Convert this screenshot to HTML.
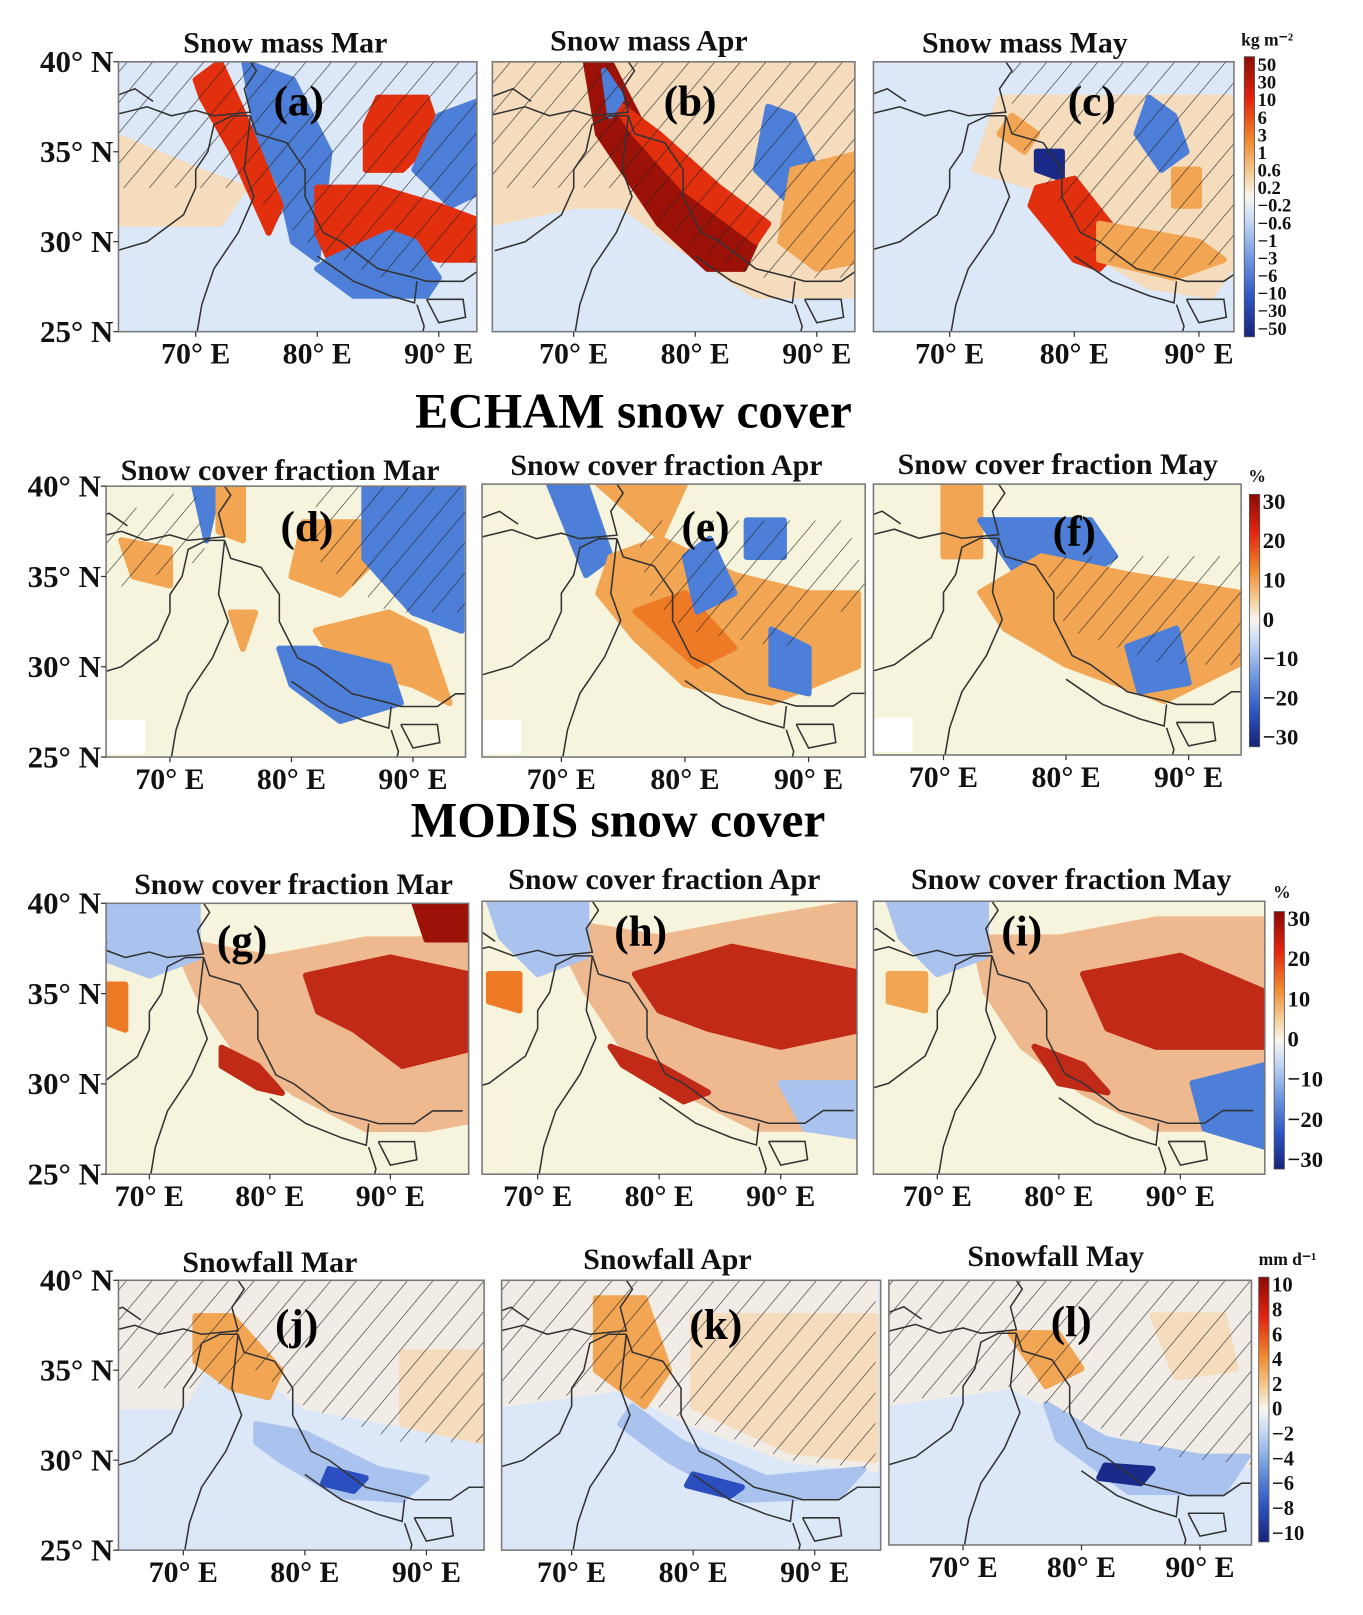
<!DOCTYPE html>
<html><head><meta charset="utf-8">
<style>
body{margin:0;background:#fff;}
svg{display:block;font-family:"Liberation Serif",serif;}
</style></head>
<body>
<svg id="fig" width="1363" height="1615" viewBox="0 0 1363 1615" xmlns="http://www.w3.org/2000/svg">
<defs>
<pattern id="hatch" patternUnits="userSpaceOnUse" width="19" height="19" patternTransform="rotate(40)">
<line x1="0" y1="0" x2="0" y2="19" stroke="#222" stroke-width="1.1"/>
</pattern>
<linearGradient id="cbDiv" x1="0" y1="0" x2="0" y2="1">
<stop offset="0" stop-color="#8b0a05"/><stop offset="0.15" stop-color="#e3230e"/><stop offset="0.3" stop-color="#f08a2e"/><stop offset="0.42" stop-color="#f3cf9c"/><stop offset="0.5" stop-color="#f8f5ee"/><stop offset="0.58" stop-color="#c9dbf4"/><stop offset="0.72" stop-color="#6f98e0"/><stop offset="0.86" stop-color="#2e55c2"/><stop offset="1" stop-color="#17237a"/>
</linearGradient>
</defs>
<g id="root" transform="scale(1.03)"></g>
</svg>
<script>
// ---------- data (lon/lat polygons with level values) ----------
const rowTitles = ["ECHAM snow cover","MODIS snow cover"];
const panelTitles = ["Snow mass Mar","Snow mass Apr","Snow mass May","Snow cover fraction Mar","Snow cover fraction Apr","Snow cover fraction May","Snow cover fraction Mar","Snow cover fraction Apr","Snow cover fraction May","Snowfall Mar","Snowfall Apr","Snowfall May"];
const panelLetters = ["(a)","(b)","(c)","(d)","(e)","(f)","(g)","(h)","(i)","(j)","(k)","(l)"];
const latTicks = [40,35,30,25];
const lonTicks = [70,80,90];
const cbLabels1 = ["50","30","10","6","3","1","0.6","0.2","\u22120.2","\u22120.6","\u22121","\u22123","\u22126","\u221210","\u221230","\u221250"];
const cbLabels2 = ["30","20","10","0","\u221210","\u221220","\u221230"];
const cbLabels4 = ["10","8","6","4","2","0","\u22122","\u22124","\u22126","\u22128","\u221210"];
const cbUnits = ["kg m\u207B\u00B2","%","%","mm d\u207B\u00B9"];

const borders = [
 [[63.5,29.5],[66,30],[69,31.5],[70,33],[70,34],[71,35],[71.5,36.5],[73,37],[74.5,37]],
 [[63,37],[66,37.5],[68,37],[70,37.3],[71.5,37],[74.5,37.2],[74,38.5],[75,39.5],[74,40.5]],
 [[74.5,37],[75,36],[77.5,35.5],[79,34],[79,32.5],[80.5,30.5],[82,30],[85,28.5],[88,28],[89,27.8],[92,27.8],[93.5,28.5],[96,28.5]],
 [[74.5,37],[74,34],[74.8,32.5],[73.5,30.5],[71.5,28.5],[70.5,26.5],[70,24.5]],
 [[80,29.2],[83,27.8],[86,27],[88,26.6],[88.2,27.8]],
 [[88.2,26.5],[88.8,25.3],[88.5,24.5]],
 [[89,26.8],[92,26.8],[92.2,25.8],[90,25.5],[89,26.8]],
 [[63,38],[65,38.5],[66.5,37.8]]
];

// Row 1: snow mass (levels -5..5)
const blobsA = [
 {v:1,p:[[63,36],[70,34],[74,33],[72,31],[63,31]]},
 {v:-3,p:[[74,40],[78,39],[81,35],[80,29],[78,30],[77,33],[75,36]]},
 {v:4,p:[[70,39],[72,40],[74,37],[77,32],[76,30.5],[73,35],[70.5,38]]},
 {v:4,p:[[85,38],[89,38],[90,36],[87,34],[84,34],[84,36.5]]},
 {v:-3,p:[[90,37],[94,38],[94,33],[91,32],[88,34]]},
 {v:4,p:[[80,33],[85,33],[90,32],[94,31],[94,29],[90,29],[85,30],[81,29],[80,30.5]]},
 {v:-3,p:[[81,29],[86,30.5],[88,30],[90,28],[89,27],[83,27],[80,28.5]]}
];
const blobsB = [
 {v:1,p:[[63,40],[94,40],[94,27],[85,27],[78,30],[74,32],[70,32],[63,31]]},
 {v:5,p:[[71,40],[73,40],[76,36],[80,33],[85,30],[84,28.5],[81,28.5],[77,31],[72,36]]},
 {v:4,p:[[73,38],[75,36],[79,33],[83,31],[85,30],[86,31],[82,33],[77,36]]},
 {v:-3,p:[[86,37.5],[88,37],[90,34],[88,32],[85,34]]},
 {v:-3,p:[[72.5,39.5],[74,38],[73,37]]},
 {v:2,p:[[88,34],[94,35],[94,29],[90,28.5],[87,30]]}
];
const blobsC = [
 {v:1,p:[[74,38],[94,38],[94,30],[91,27],[86,27.5],[80,30],[77,33],[72,34]]},
 {v:-3,p:[[86,38],[88,37],[89,35],[87,34],[85,36]]},
 {v:-5,p:[[77,35],[79,35],[79,33.5],[77,34]]},
 {v:4,p:[[77,33],[80,33.5],[84,30],[82,28.5],[80,29],[76.5,32]]},
 {v:2,p:[[75,37],[77,36],[76,35],[74,36]]},
 {v:2,p:[[82,31],[90,30],[92,29],[88,28],[82,29]]},
 {v:2,p:[[88,34],[90,34],[90,32],[88,32]]}
];
// Row 2: ECHAM snow cover fraction
const blobsD = [
 {v:2,p:[[66,37],[70,36.5],[70,34.5],[67,35]]},
 {v:-3,p:[[72,40],[74,40],[73,37]]},
 {v:2,p:[[74,40],[76,40],[76,37],[74,37.5]]},
 {v:2,p:[[81,38],[86,38],[87,36],[84,34],[80,35]]},
 {v:-3,p:[[86,40],[94,40],[94,32],[90,33],[86,36]]},
 {v:2,p:[[82,32],[88,33],[91,32],[93,28],[90,29],[84,30]]},
 {v:-3,p:[[79,31],[82,31],[88,30],[89,28],[84,27],[80,29]]},
 {v:2,p:[[75,33],[77,33],[76,31]]}
];
const blobsE = [
 {v:-3,p:[[69,40],[72,40],[74,36],[72,35]]},
 {v:2,p:[[73,40],[80,40],[78,37]]},
 {v:2,p:[[74,36],[78,37],[84,35],[90,34],[94,34],[94,30],[87,28],[80,29],[76,31.5],[73,34]]},
 {v:3,p:[[76,33],[80,34],[84,31],[81,30]]},
 {v:-3,p:[[80,36],[82,37],[84,34],[81,33]]},
 {v:-3,p:[[87,32],[90,31],[90,28.5],[87,29]]},
 {v:-3,p:[[85,38],[88,38],[88,36],[85,36]]}
];
const blobsF = [
 {v:2,p:[[70,40],[73,40],[73,36],[70,36]]},
 {v:-3,p:[[73,38],[82,38],[84,36],[80,34],[76,35]]},
 {v:2,p:[[73,34],[78,36],[85,35],[94,34],[94,30],[88,28],[80,30],[75,32]]},
 {v:-3,p:[[85,31],[89,32],[90,29],[86,28.5]]}
];
// Row 3: MODIS (speckled, approximated)
const blobsG = [
 {v:6,p:[[72,38],[80,37],[88,38],[97,38],[97,28],[93,27.5],[88,27.5],[82,29.5],[77,32],[74,35]]},
 {v:-2,p:[[66,40],[74,40],[74,37],[70,36],[66,37]]},
 {v:7,p:[[83,36],[90,37],[97,36],[97,32],[91,31],[87,33],[84,34]]},
 {v:5,p:[[92,40],[97,40],[97,38],[93,38]]},
 {v:7,p:[[76,32],[79,31],[81,29.5],[79,29.8],[76,31]]},
 {v:3,p:[[66,35.5],[68,35.5],[68,33],[66,33.5]]}
];
const blobsH = [
 {v:6,p:[[71,39],[80,38],[88,39],[97,40],[97,28],[93,27.5],[88,27.5],[82,29.5],[77,32],[74,35]]},
 {v:-2,p:[[66,40],[74,40],[74,37],[70,36],[67,38]]},
 {v:7,p:[[78,36],[86,37.5],[97,36],[97,33],[90,32],[84,33],[80,34]]},
 {v:7,p:[[76,32],[80,31],[84,29.5],[82,29],[77,31]]},
 {v:-2,p:[[90,30],[97,30],[97,27],[92,27.5]]},
 {v:3,p:[[66,36],[68.5,36],[68.5,34],[66,34.5]]}
];
const blobsI = [
 {v:6,p:[[73,38],[80,38],[88,39],[97,39],[97,28],[93,27.5],[88,27.5],[82,29.5],[77,32],[74,35]]},
 {v:-2,p:[[66,40],[74,40],[74,37],[70,36],[67,38]]},
 {v:7,p:[[82,36],[90,37],[97,35],[97,32],[88,32],[84,33]]},
 {v:7,p:[[78,32],[82,31],[84,29.5],[80,30]]},
 {v:-3,p:[[91,30],[97,31],[97,26.5],[92,27.5]]},
 {v:2,p:[[66,36],[69,36],[69,34],[66,34.5]]}
];
// Row 4: snowfall
const blobsJ = [
 {v:0,p:[[63,40],[95,40],[95,31],[88,32],[80,33],[76,35],[72,35.5],[70,33],[63,33]]},
 {v:2,p:[[71,38],[74,38],[78,35],[77,33.5],[74,34],[71,35.5]]},
 {v:1,p:[[88,36],[95,36],[95,31],[88,32]]},
 {v:-2,p:[[76,32],[80,31.5],[86,29.5],[90,29],[88,27.8],[83,28],[78,30],[76,31]]},
 {v:-4,p:[[82,29.5],[85,29],[84,28.3],[81.5,28.7]]}
];
const blobsK = [
 {v:0,p:[[63,40],[95,40],[95,29.5],[88,30],[80,32],[74,34],[63,33]]},
 {v:2,p:[[72,39],[76,39],[78,35],[76,33],[72,35]]},
 {v:1,p:[[80,38],[95,38],[95,30],[88,30.5],[80,33]]},
 {v:-2,p:[[75,33],[79,31],[86,29],[94,29.5],[92,28],[84,27.8],[78,30],[74,32]]},
 {v:-4,p:[[80,29.2],[84,28.5],[83,28],[79.5,28.6]]}
];
const blobsL = [
 {v:0,p:[[63,40],[95,40],[95,29.5],[88,30],[80,32],[74,34],[63,33]]},
 {v:2,p:[[74,37],[78,37],[80,35],[77,34]]},
 {v:1,p:[[86,38],[92,38],[93,35],[88,34.5]]},
 {v:-2,p:[[77,33],[82,31],[90,30],[94,30],[92,28],[84,28],[78,31]]},
 {v:-5,p:[[82,29.5],[86,29.3],[85,28.5],[81.5,28.8]]}
];
const hatchA = [[[63,40],[94,40],[94,29],[85,28],[79,30],[74,33],[70,33],[63,33]]];
const hatchB = [[[63,40],[94,40],[94,28],[85,28],[79,30],[74,33],[70,33],[63,33]]];
const hatchC = [[[75,40],[94,40],[94,30],[89,28],[82,29],[78,33],[75,36]]];
const hatchD = [[[82,40],[95,40],[95,33],[88,33],[82,36]],[[64,38],[72,40],[73,36],[64,34]]];
const hatchE = [[[76,38],[93,38],[95,34],[88,31],[80,32],[77,34]]];
const hatchF = [[[78,36],[95,36],[95,30],[88,30],[80,32]]];
const hatchJ = [[[63,40],[95,40],[95,31],[88,31],[80,33],[76,35],[72,34],[63,34]]];
const hatchK = [[[63,40],[95,40],[95,29.5],[88,30],[80,32],[74,34],[63,33]]];
const hatchL = [[[63,40],[95,40],[95,29.5],[88,30],[80,32],[74,34],[63,33]]];

// ---------- styling ----------
const colorDiv = {"-5":"#1a2a8a","-4":"#2b4fc0","-3":"#4d7fd8","-2":"#a9c2ee","-1":"#dbe8f8","0":"#f1ece6","1":"#f4dcbc","2":"#f2a552","3":"#ef7a25","4":"#e2300f","5":"#9c1208","6":"#efb98f","7":"#c22a18"};
const bgs = ["#dce8f8","#f6f4dc","#f6f4dc","#dce8f8"];
const panels = [
 {x0:115,x1:463,y0:60,y1:322,x70:190,x80:308,tx:277,ty:51,lx:290,ly:112,blobs:blobsA,hatch:hatchA},
 {x0:478,x1:830,y0:60,y1:322,x70:557,x80:675,tx:630,ty:49,lx:670,ly:112,blobs:blobsB,hatch:hatchB},
 {x0:848,x1:1198,y0:60,y1:322,x70:922,x80:1043,tx:995,ty:51,lx:1060,ly:112,blobs:blobsC,hatch:hatchC},
 {x0:103,x1:452,y0:472,y1:735,x70:165,x80:283,tx:272,ty:466,lx:298,ly:525,blobs:blobsD,hatch:hatchD},
 {x0:468,x1:840,y0:470,y1:735,x70:545,x80:665,tx:647,ty:461,lx:685,ly:525,blobs:blobsE,hatch:hatchE},
 {x0:848,x1:1205,y0:470,y1:733,x70:916,x80:1035,tx:1027,ty:460,lx:1043,ly:530,blobs:blobsF,hatch:hatchF},
 {x0:103,x1:455,y0:877,y1:1140,x70:145,x80:262,tx:285,ty:868,lx:235,ly:927,blobs:blobsG,hatch:[]},
 {x0:468,x1:832,y0:875,y1:1140,x70:522,x80:640,tx:645,ty:863,lx:622,ly:918,blobs:blobsH,hatch:[]},
 {x0:848,x1:1228,y0:875,y1:1140,x70:910,x80:1028,tx:1040,ty:863,lx:992,ly:918,blobs:blobsI,hatch:[]},
 {x0:115,x1:470,y0:1243,y1:1505,x70:178,x80:296,tx:262,ty:1235,lx:288,ly:1300,blobs:blobsJ,hatch:hatchJ},
 {x0:487,x1:855,y0:1243,y1:1505,x70:555,x80:673,tx:648,ty:1232,lx:695,ly:1300,blobs:blobsK,hatch:hatchK},
 {x0:863,x1:1215,y0:1243,y1:1500,x70:935,x80:1050,tx:1025,ty:1229,lx:1040,ly:1297,blobs:blobsL,hatch:hatchL}
];
const cbars = [
 {x:1208,y0:55,y1:327,labels:cbLabels1,ux:1205,uy:44,fs:18},
 {x:1213,y0:480,y1:725,labels:cbLabels2,ux:1212,uy:468,fs:22},
 {x:1237,y0:885,y1:1135,labels:cbLabels2,ux:1236,uy:872,fs:22},
 {x:1222,y0:1240,y1:1497,labels:cbLabels4,ux:1222,uy:1228,fs:20}
];
const NS="http://www.w3.org/2000/svg";
const root=document.getElementById('root');
function mk(tag,attrs,parent){const e=document.createElementNS(NS,tag);for(const k in attrs)e.setAttribute(k,attrs[k]);(parent||root).appendChild(e);return e;}
function xScale(p,lon){return p.x70+(lon-70)*(p.x80-p.x70)/10;}
function yScale(p,lat){return p.y0+(40-lat)*(p.y1-p.y0)/15;}
function pts(p,arr){return arr.map(c=>xScale(p,c[0]).toFixed(1)+","+yScale(p,c[1]).toFixed(1)).join(" ");}

panels.forEach((p,i)=>{
 const row=Math.floor(i/3);
 const g=mk('g',{});
 
 
 const cid='clip'+i;
 const cp=mk('clipPath',{id:cid},g);
 mk('rect',{x:p.x0,y:p.y0,width:p.x1-p.x0,height:p.y1-p.y0},cp);
 const inner=mk('g',{'clip-path':'url(#'+cid+')'},g);
 mk('rect',{x:p.x0,y:p.y0,width:p.x1-p.x0,height:p.y1-p.y0,fill:bgs[row]},inner);
 if(row===1){mk('rect',{x:p.x0,y:p.y1-36,width:38,height:33,fill:'#ffffff'},inner);}
 p.blobs.forEach(b=>{
  const e=mk('polygon',{points:pts(p,b.p),fill:colorDiv[String(b.v)],'stroke':colorDiv[String(b.v)],'stroke-width':6,'stroke-linejoin':'round'},inner);
  
  
 });
 p.hatch.forEach(h=>{
  const e=mk('polygon',{points:pts(p,h),fill:'url(#hatch)'},inner);
  
  
 });
 borders.forEach(bd=>{
  const e=mk('polyline',{points:pts(p,bd),fill:'none',stroke:'#333',"stroke-width":1.5},inner);
  
  
 });
 mk('rect',{x:p.x0,y:p.y0,width:p.x1-p.x0,height:p.y1-p.y0,fill:'none',stroke:'#777','stroke-width':1.5},g);
 const t=mk('text',{x:p.tx,y:p.ty,'text-anchor':'middle','font-size':29,'font-weight':'bold',fill:'#111'},g);
 t.textContent=panelTitles[i];
 
 
 const l=mk('text',{x:p.lx,y:p.ly,'text-anchor':'middle','font-size':42,'font-weight':'bold',fill:'#000'},g);
 l.textContent=panelLetters[i];
 
 
 lonTicks.forEach(lon=>{
  const x=xScale(p,lon);
  mk('line',{x1:x,y1:p.y1,x2:x,y2:p.y1+5,stroke:'#333','stroke-width':1.2},g);
  const tt=mk('text',{x:x,y:p.y1+31,'text-anchor':'middle','font-size':29,'font-weight':'bold',fill:'#111'},g);
  tt.textContent=lon+"\u00B0 E";
  
  
 });
 if(i%3===0){
  latTicks.forEach(lat=>{
   const y=yScale(p,lat);
   mk('line',{x1:p.x0-5,y1:y,x2:p.x0,y2:y,stroke:'#333','stroke-width':1.2},g);
   const tt=mk('text',{x:p.x0-5,y:y+10,'text-anchor':'end','font-size':30,'font-weight':'bold',fill:'#111'},g);
   tt.textContent=lat+"\u00B0 N";
   
   
  });
 }
});

cbars.forEach((c,i)=>{
 const g=mk('g',{});
 
 
 mk('rect',{x:c.x,y:c.y0,width:10,height:c.y1-c.y0,fill:'url(#cbDiv)',stroke:'#555','stroke-width':0.8},g);
 const n=c.labels.length;
 c.labels.forEach((lab,k)=>{
  const y=c.y0+8+k*(c.y1-c.y0-16)/(n-1);
  const t=mk('text',{x:c.x+13,y:y+6,'font-size':c.fs,'font-weight':'bold',fill:'#111'},g);
  t.textContent=lab;
  
  
 });
 const u=mk('text',{x:c.ux,y:c.uy,'font-size':17,'font-weight':'bold',fill:'#111'},g);
 u.textContent=cbUnits[i];
 
 
});

const rt=[{x:615,y:415},{x:600,y:812}];
rowTitles.forEach((s,i)=>{
 const t=mk('text',{x:rt[i].x,y:rt[i].y,'text-anchor':'middle','font-size':48,'font-weight':'bold',fill:'#000'});
 t.textContent=s;
 
 
});
</script>
</body></html>
